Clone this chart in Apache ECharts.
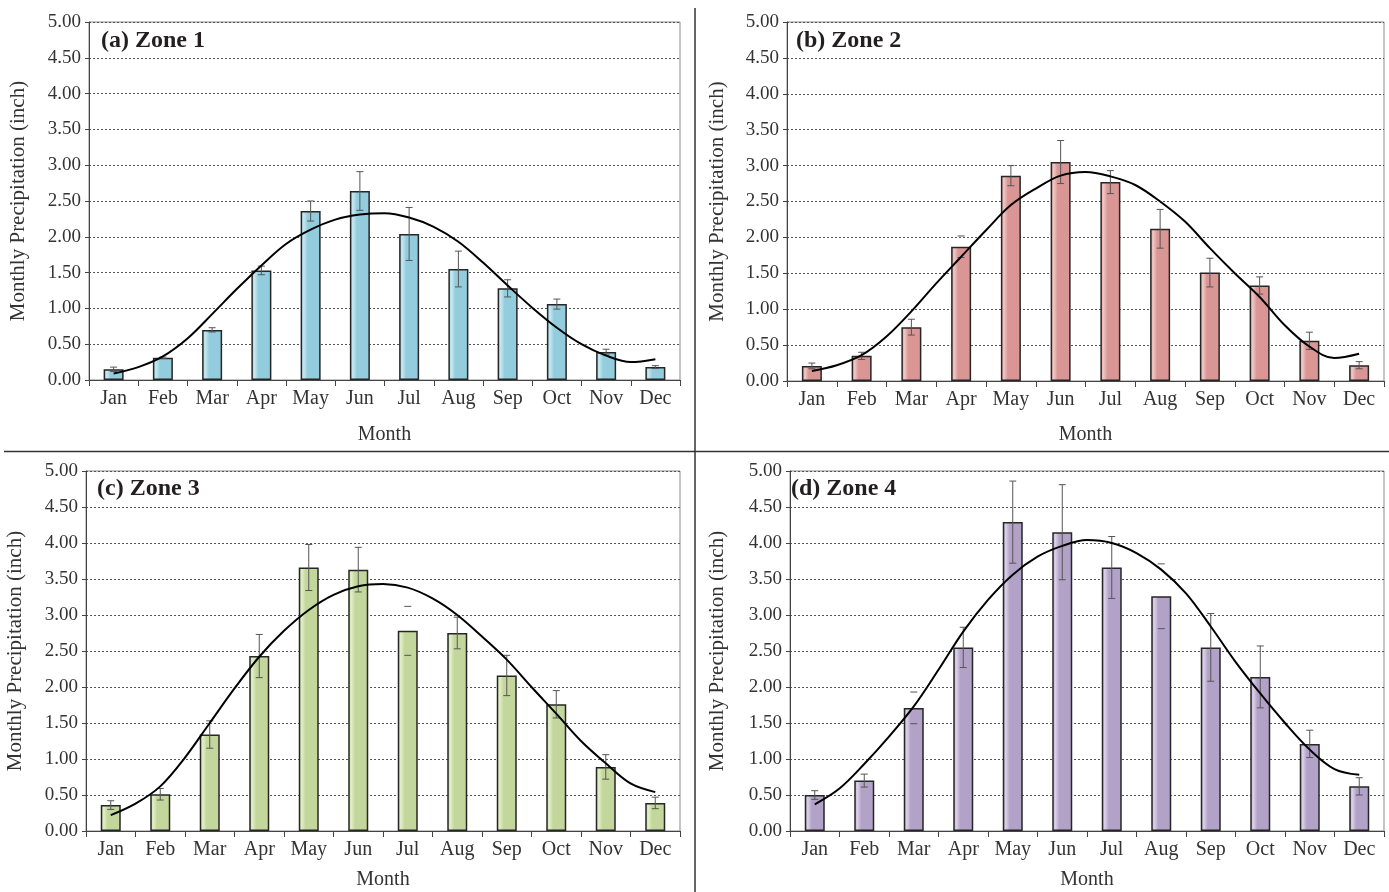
<!DOCTYPE html>
<html>
<head>
<meta charset="utf-8">
<script src="https://cdn.jsdelivr.net/npm/echarts@6/dist/echarts.min.js"></script>
<style>
html,body{margin:0;padding:0;background:#fff;}
#chart{width:1389px;height:892px;}
</style>
</head>
<body>
<div id="chart"></div>
<script>
var months = ['Jan','Feb','Mar','Apr','May','Jun','Jul','Aug','Sep','Oct','Nov','Dec'];
var yTicks = [0,0.5,1,1.5,2,2.5,3,3.5,4,4.5,5];
var panelTitles = ['(a) Zone 1','(b) Zone 2','(c) Zone 3','(d) Zone 4'];

var zone1Mean = [0.15,0.31,0.70,1.53,2.36,2.64,2.04,1.55,1.28,1.06,0.39,0.18];
var zone1Err  = [0.03,0.01,0.03,0.06,0.14,0.27,0.37,0.25,0.12,0.07,0.04,0.02];

var zone2Mean = [0.21,0.35,0.75,1.87,2.86,3.05,2.77,2.12,1.51,1.33,0.56,0.22];
var zone2Err  = [0.04,0.05,0.11,0.15,0.14,0.30,0.16,0.27,0.20,0.12,0.12,0.05];

var zone3Mean = [0.36,0.51,1.34,2.43,3.66,3.63,2.78,2.75,2.16,1.76,0.89,0.39];
var zone3Err  = [0.06,0.08,0.19,0.30,0.32,0.31,0.34,0.22,0.28,0.19,0.17,0.08];

var zone4Mean = [0.50,0.70,1.71,2.55,4.29,4.15,3.66,3.26,2.55,2.14,1.21,0.62];
var zone4Err  = [0.06,0.09,0.22,0.28,0.57,0.66,0.43,0.45,0.47,0.43,0.19,0.12];

// fitted curve, read at every half month (0 = Jan ... 11 = Dec)
var fitX     = [0,0.5,1,1.5,2,2.5,3,3.5,4,4.5,5,5.5,6,6.5,7,7.5,8,8.5,9,9.5,10,10.5,11];
var zone1Fit = [0.09,0.18,0.33,0.58,0.92,1.27,1.60,1.90,2.10,2.24,2.31,2.33,2.27,2.14,1.93,1.64,1.32,1.01,0.73,0.50,0.34,0.25,0.29];
var zone2Fit = [0.14,0.22,0.36,0.62,0.97,1.36,1.73,2.10,2.45,2.68,2.86,2.91,2.85,2.73,2.50,2.22,1.85,1.50,1.17,0.78,0.48,0.32,0.38];
var zone3Fit = [0.22,0.38,0.62,1.02,1.50,1.98,2.42,2.78,3.07,3.28,3.40,3.43,3.38,3.23,3.00,2.70,2.38,2.00,1.63,1.25,0.94,0.66,0.54];
var zone4Fit = [0.37,0.59,0.93,1.31,1.73,2.24,2.77,3.21,3.56,3.81,3.96,4.04,4.00,3.86,3.63,3.30,2.84,2.35,1.91,1.50,1.13,0.86,0.78];

// error bars drawn with caps only (stem not visible in the original)
var capsOnly = [[], [3], [6], [2,7]];

var means = [zone1Mean, zone2Mean, zone3Mean, zone4Mean];
var errs = [zone1Err, zone2Err, zone3Err, zone4Err];
var fits = [zone1Fit, zone2Fit, zone3Fit, zone4Fit];
var colors = ['#93cddd','#d99694','#c3d69b','#b3a2c7'];
var lightColors = ['#c8e8f1','#f0c8c6','#e2efc8','#dcd2ea'];

var FONT = '"Liberation Serif", "DejaVu Serif", serif';

var grids = [
  {left:89, top:22, width:591, height:358},
  {left:787, top:22, width:597, height:359},
  {left:86, top:471, width:594, height:360},
  {left:790, top:471, width:594, height:360}
];
var xNameGaps = [45, 44, 39, 39];
var yNameGaps = [60, 59, 60, 62];
var titlePos = [[101,29],[796,29],[97,477],[791,477]];

var chart = echarts.init(document.getElementById('chart'));

var xAxes = [], yAxes = [];
grids.forEach(function(g,i){
  xAxes.push({
    type:'category', gridIndex:i, data:months,
    name:'Month', nameLocation:'middle', nameGap:xNameGaps[i],
    nameTextStyle:{fontFamily:FONT, fontSize:20, color:'#333'},
    axisLine:{show:true, onZero:false, lineStyle:{color:'#444', width:1}},
    axisTick:{show:true, length:6, lineStyle:{color:'#444'}},
    axisLabel:{fontFamily:FONT, fontSize:20, color:'#333', margin:9, interval:0},
    splitLine:{show:false}
  });
  yAxes.push({
    type:'value', gridIndex:i, min:yTicks[0], max:yTicks[yTicks.length-1], interval:yTicks[1]-yTicks[0],
    name:'Monthly Precipitation (inch)', nameLocation:'middle', nameGap:yNameGaps[i],
    nameTextStyle:{fontFamily:FONT, fontSize:21, color:'#333'},
    axisLine:{show:true, onZero:false, lineStyle:{color:'#444', width:1}},
    axisTick:{show:true, length:4, lineStyle:{color:'#444'}},
    axisLabel:{fontFamily:FONT, fontSize:19, color:'#333', margin:8,
      formatter:function(v){return v.toFixed(2);}},
    splitLine:{show:true, lineStyle:{color:'#555', width:1, type:[2,2]}}
  });
});
// hidden value x-axes aligned with category centres, for the fitted curves
grids.forEach(function(g,i){
  xAxes.push({
    type:'value', gridIndex:i, min:-0.5, max:11.5, show:false,
    axisLine:{show:false, onZero:false}, axisTick:{show:false}, axisLabel:{show:false}, splitLine:{show:false}
  });
});

var option = {
  animation:false,
  backgroundColor:'#fff',
  grid: grids.map(function(g){
    return {left:g.left, top:g.top, width:g.width, height:g.height, containLabel:false,
      show:true, borderColor:'#8a8a8a', borderWidth:1, backgroundColor:'transparent'};
  }),
  xAxis: xAxes,
  yAxis: yAxes,
  graphic: [
    {type:'line', shape:{x1:695, y1:8, x2:695, y2:892}, style:{stroke:'#333', lineWidth:1.5}, z:100},
    {type:'line', shape:{x1:4, y1:451.5, x2:1389, y2:451.5}, style:{stroke:'#333', lineWidth:1.5}, z:100}
  ].concat(panelTitles.map(function(t,i){
    return {type:'text', left:titlePos[i][0], top:titlePos[i][1], z:100,
      style:{text:t, font:'bold 24px ' + FONT, fill:'#231f20'}};
  })),
  series: []
};

means.forEach(function(m,i){
  option.series.push({
    type:'bar', xAxisIndex:i, yAxisIndex:i, data:m, barWidth:20,
    itemStyle:{
      color:new echarts.graphic.LinearGradient(0,0,1,0,[
        {offset:0, color:colors[i]},
        {offset:0.15, color:lightColors[i]},
        {offset:0.35, color:colors[i]},
        {offset:1, color:colors[i]}
      ]),
      borderColor:'#262626', borderWidth:1.5
    },
    z:2
  });
  var errData = m.map(function(v,k){ return [k, +(v - errs[i][k]).toFixed(3), +(v + errs[i][k]).toFixed(3)]; });
  var co = capsOnly[i];
  option.series.push({
    type:'custom', xAxisIndex:i, yAxisIndex:i, data:errData, z:3,
    renderItem:function(params, api){
      var idx = api.value(0);
      var lo = api.coord([idx, api.value(1)]);
      var hi = api.coord([idx, api.value(2)]);
      var w = 3.5;
      var st = {stroke:'#555', lineWidth:1};
      var children = [
        {type:'line', shape:{x1:hi[0]-w, y1:hi[1], x2:hi[0]+w, y2:hi[1]}, style:st},
        {type:'line', shape:{x1:lo[0]-w, y1:lo[1], x2:lo[0]+w, y2:lo[1]}, style:st}
      ];
      if (co.indexOf(params.dataIndex) < 0) {
        children.push({type:'line', shape:{x1:hi[0], y1:hi[1], x2:lo[0], y2:lo[1]}, style:st});
      }
      return {type:'group', children:children};
    }
  });
  option.series.push({
    type:'line', xAxisIndex:4+i, yAxisIndex:i,
    data:fitX.map(function(x,k){ return [x, fits[i][k]]; }),
    smooth:0.35, symbol:'none', lineStyle:{color:'#000', width:2}, z:4
  });
});

chart.setOption(option);
</script>
</body>
</html>
